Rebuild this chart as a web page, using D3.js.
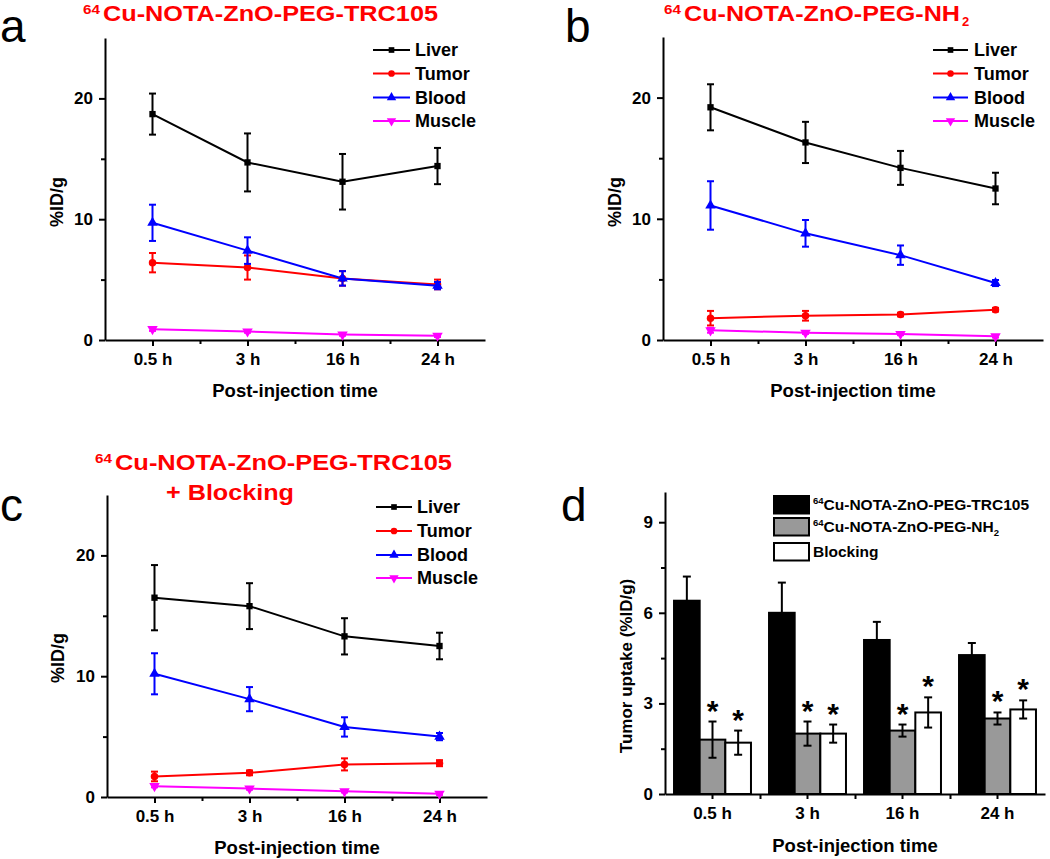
<!DOCTYPE html>
<html><head><meta charset="utf-8">
<script src="https://cdn.jsdelivr.net/npm/d3@7"></script>
<style>
body{margin:0;background:#fff}
text{font-family:"Liberation Sans",Arial,sans-serif;font-weight:bold;fill:#000}
</style>
</head><body>
<svg id="chart" width="1050" height="859"></svg>
<script>
// ---------- DATA ----------
const timeLabels = ["0.5 h", "3 h", "16 h", "24 h"];
const seriesNames = ["Liver", "Tumor", "Blood", "Muscle"];
const lineYTicks = [0, 10, 20];
const lineYMinor = [5, 15];
const barYTicks = [0, 3, 6, 9];
const barYMinor = [1.5, 4.5, 7.5];

// panel a: 64Cu-NOTA-ZnO-PEG-TRC105
const aLiver = [18.7, 14.7, 13.1, 14.4], aLiverErr = [1.7, 2.4, 2.3, 1.5];
const aTumor = [6.4, 6.0, 5.1, 4.6],     aTumorErr = [0.8, 1.0, 0.6, 0.4];
const aBlood = [9.7, 7.4, 5.1, 4.5],     aBloodErr = [1.5, 1.1, 0.6, 0.3];
const aMuscle = [0.9, 0.7, 0.45, 0.35],  aMuscleErr = [0.15, 0.1, 0.1, 0.1];

// panel b: 64Cu-NOTA-ZnO-PEG-NH2
const bLiver = [19.2, 16.3, 14.2, 12.5], bLiverErr = [1.9, 1.7, 1.4, 1.3];
const bTumor = [1.8, 2.0, 2.1, 2.5],     bTumorErr = [0.6, 0.4, 0.15, 0.15];
const bBlood = [11.1, 8.8, 7.0, 4.7],    bBloodErr = [2.0, 1.1, 0.8, 0.25];
const bMuscle = [0.8, 0.6, 0.5, 0.3],    bMuscleErr = [0.2, 0.1, 0.1, 0.1];

// panel c: 64Cu-NOTA-ZnO-PEG-TRC105 + Blocking
const cLiver = [16.5, 15.8, 13.3, 12.5], cLiverErr = [2.7, 1.9, 1.5, 1.1];
const cTumor = [1.7, 2.0, 2.7, 2.8],     cTumorErr = [0.4, 0.2, 0.5, 0.25];
const cBlood = [10.2, 8.1, 5.8, 5.0],    cBloodErr = [1.7, 1.0, 0.8, 0.3];
const cMuscle = [0.9, 0.7, 0.47, 0.27],  cMuscleErr = [0.1, 0.1, 0.1, 0.1];

// panel d: tumor uptake bars
const barGroupNames = ["TRC105", "NH2", "Blocking"];
const dTRC105 = [6.4, 6.0, 5.1, 4.6],  dTRC105Err = [0.8, 1.0, 0.6, 0.4];
const dNH2 = [1.8, 2.0, 2.1, 2.5],     dNH2Err = [0.6, 0.4, 0.2, 0.2];
const dBlock = [1.7, 2.0, 2.7, 2.8],   dBlockErr = [0.4, 0.3, 0.5, 0.3];
const dSignificant = [[false, false, false, false], [true, true, true, true], [true, true, true, true]];

// ---------- STYLE ----------
const seriesColors = ["#000000", "#ff0000", "#0000ff", "#ff00ff"];
const seriesSymbols = [d3.symbolSquare, d3.symbolCircle, d3.symbolTriangle, d3.symbolTriangle];
const seriesSymbolSize = [40, 44, 48, 48];
const seriesSymbolRot = [0, 0, 0, 180];
const barFills = ["#000000", "#999999", "#ffffff"];

const svg = d3.select("#chart");

function styleAxis(g) {
  g.selectAll("path.domain").attr("stroke", "#000").attr("stroke-width", 2);
  g.selectAll(".tick line").attr("stroke", "#000").attr("stroke-width", 2);
  g.selectAll(".tick text").style("font-size", "17px").style("font-family", '"Liberation Sans",Arial,sans-serif').style("font-weight", "bold").attr("fill", "#000");
}

function titleText(x, y, main, len, sub) {
  svg.append("text").attr("x", x).attr("y", y - 7).style("font-size", "12px").style("fill", "#ff0000")
    .attr("textLength", 17).attr("lengthAdjust", "spacingAndGlyphs").text("64");
  svg.append("text").attr("x", x + 20).attr("y", y).style("font-size", "22px").style("fill", "#ff0000")
    .attr("textLength", len).attr("lengthAdjust", "spacingAndGlyphs").text(main);
  if (sub) {
    svg.append("text").attr("x", x + 20 + len + 2).attr("y", y + 5).style("font-size", "13px").style("fill", "#ff0000").text(sub);
  }
}

function panelLabel(x, y, t) {
  svg.append("text").attr("x", x).attr("y", y).style("font-size", "46px").style("font-weight", "normal").text(t);
}

function linePanel(o) {
  const x = d3.scaleLinear().domain([0.5, 4.5]).range([o.x0, o.x1]);
  const y = d3.scaleLinear().domain([0, 25]).range([o.yb, o.yt]);
  const g = svg.append("g");

  // minor ticks
  g.append("g").attr("transform", `translate(${o.x0},0)`)
    .call(d3.axisLeft(y).tickValues(lineYMinor).tickSize(4).tickFormat(""))
    .call(a => a.select(".domain").remove()).call(styleAxis);
  g.append("g").attr("transform", `translate(0,${o.yb})`)
    .call(d3.axisBottom(x).tickValues([1.5, 2.5, 3.5]).tickSize(4).tickFormat(""))
    .call(a => a.select(".domain").remove()).call(styleAxis);
  // major axes
  g.append("g").attr("transform", `translate(${o.x0},0)`)
    .call(d3.axisLeft(y).tickValues(lineYTicks).tickSize(6).tickSizeOuter(0).tickPadding(6))
    .call(styleAxis);
  g.append("g").attr("transform", `translate(0,${o.yb})`)
    .call(d3.axisBottom(x).tickValues([1, 2, 3, 4]).tickFormat(i => timeLabels[i - 1]).tickSize(6).tickSizeOuter(0).tickPadding(7))
    .call(styleAxis);

  // axis titles
  g.append("text").attr("x", (o.x0 + o.x1) / 2).attr("y", o.yb + 57).attr("text-anchor", "middle")
    .style("font-size", "18.5px").text("Post-injection time");
  g.append("text").attr("transform", `translate(${o.ytx},${o.yty}) rotate(-90)`).attr("text-anchor", "middle")
    .style("font-size", "18px").text("%ID/g");

  // series
  o.series.forEach((s, si) => {
    const col = seriesColors[si];
    const sg = g.append("g");
    const pts = s.v.map((v, i) => ({ x: i + 1, v, e: s.e[i] }));
    // error bars
    pts.forEach(p => {
      const px = x(p.x), y1 = y(p.v + p.e), y2 = y(p.v - p.e);
      sg.append("line").attr("x1", px).attr("x2", px).attr("y1", y1).attr("y2", y2).attr("stroke", col).attr("stroke-width", 2);
      [y1, y2].forEach(yy => sg.append("line").attr("x1", px - 3.5).attr("x2", px + 3.5).attr("y1", yy).attr("y2", yy).attr("stroke", col).attr("stroke-width", 2));
    });
    sg.append("path").datum(pts).attr("fill", "none").attr("stroke", col).attr("stroke-width", 2)
      .attr("d", d3.line().x(p => x(p.x)).y(p => y(p.v)));
    sg.selectAll("path.m").data(pts).join("path").attr("class", "m")
      .attr("d", d3.symbol().type(seriesSymbols[si]).size(seriesSymbolSize[si]))
      .attr("transform", p => `translate(${x(p.x)},${y(p.v)}) rotate(${seriesSymbolRot[si]})`)
      .attr("fill", col);
  });

  // legend
  seriesNames.forEach((n, i) => {
    const ly = o.legY[i], col = seriesColors[i];
    g.append("line").attr("x1", o.lx0).attr("x2", o.lx1).attr("y1", ly).attr("y2", ly).attr("stroke", col).attr("stroke-width", 2);
    g.append("path").attr("d", d3.symbol().type(seriesSymbols[i]).size(seriesSymbolSize[i] * 0.8)())
      .attr("transform", `translate(${(o.lx0 + o.lx1) / 2},${ly}) rotate(${seriesSymbolRot[i]})`).attr("fill", col);
    g.append("text").attr("x", o.tx).attr("y", ly).attr("dy", "0.36em").style("font-size", "18px").text(n);
  });
}

// ---------- PANEL a ----------
panelLabel(0, 42, "a");
titleText(83, 20.5, "Cu-NOTA-ZnO-PEG-TRC105", 335);
linePanel({
  x0: 105, x1: 485, yt: 38, yb: 340, ytx: 63, yty: 202,
  lx0: 373, lx1: 410, tx: 415, legY: [50, 73.5, 97.5, 121],
  series: [{ v: aLiver, e: aLiverErr }, { v: aTumor, e: aTumorErr }, { v: aBlood, e: aBloodErr }, { v: aMuscle, e: aMuscleErr }]
});

// ---------- PANEL b ----------
panelLabel(565, 42, "b");
titleText(664, 20.5, "Cu-NOTA-ZnO-PEG-NH", 276, "2");
linePanel({
  x0: 663, x1: 1043, yt: 37, yb: 340, ytx: 621, yty: 202,
  lx0: 933, lx1: 968, tx: 974, legY: [50, 73.5, 97.5, 121],
  series: [{ v: bLiver, e: bLiverErr }, { v: bTumor, e: bTumorErr }, { v: bBlood, e: bBloodErr }, { v: bMuscle, e: bMuscleErr }]
});

// ---------- PANEL c ----------
panelLabel(0, 521, "c");
titleText(95, 470, "Cu-NOTA-ZnO-PEG-TRC105", 337);
svg.append("text").attr("x", 166).attr("y", 500).style("font-size", "22px").style("fill", "#ff0000")
  .attr("textLength", 128).attr("lengthAdjust", "spacingAndGlyphs").text("+ Blocking");
linePanel({
  x0: 107, x1: 487, yt: 495, yb: 797, ytx: 64, yty: 658,
  lx0: 376, lx1: 412, tx: 417, legY: [507, 531, 555, 578],
  series: [{ v: cLiver, e: cLiverErr }, { v: cTumor, e: cTumorErr }, { v: cBlood, e: cBloodErr }, { v: cMuscle, e: cMuscleErr }]
});

// ---------- PANEL d ----------
panelLabel(561, 521, "d");
(function () {
  const x0 = 665, x1 = 1045, yt = 492, yb = 794;
  const x = d3.scaleBand().domain(timeLabels).range([x0, x1]).padding(0);
  const xb = d3.scaleLinear().domain([0, 4]).range([x0, x1]);
  const y = d3.scaleLinear().domain([0, 10]).range([yb, yt]);
  const g = svg.append("g");
  const groups = [
    { v: dTRC105, e: dTRC105Err },
    { v: dNH2, e: dNH2Err },
    { v: dBlock, e: dBlockErr }
  ];
  const bw = x.bandwidth() * 0.27;

  groups.forEach((gr, gi) => {
    gr.v.forEach((v, i) => {
      const cx = x(timeLabels[i]) + x.bandwidth() / 2 + (gi - 1) * bw;
      g.append("rect").attr("x", cx - bw / 2).attr("y", y(v)).attr("width", bw).attr("height", yb - y(v))
        .attr("fill", barFills[gi]).attr("stroke", "#000").attr("stroke-width", 2);
    });
  });
  groups.forEach((gr, gi) => {
    gr.v.forEach((v, i) => {
      const cx = x(timeLabels[i]) + x.bandwidth() / 2 + (gi - 1) * bw;
      const y1 = y(v + gr.e[i]), y2 = y(v - gr.e[i]);
      g.append("line").attr("x1", cx).attr("x2", cx).attr("y1", y1).attr("y2", y2).attr("stroke", "#000").attr("stroke-width", 2);
      [y1, y2].forEach(yy => g.append("line").attr("x1", cx - 4).attr("x2", cx + 4).attr("y1", yy).attr("y2", yy).attr("stroke", "#000").attr("stroke-width", 2));
      if (dSignificant[gi][i]) {
        g.append("text").attr("x", cx).attr("y", y1 - 1).attr("text-anchor", "middle").style("font-size", "30px").text("*");
      }
    });
  });

  // axes
  g.append("g").attr("transform", `translate(${x0},0)`)
    .call(d3.axisLeft(y).tickValues(barYMinor).tickSize(4).tickFormat(""))
    .call(a => a.select(".domain").remove()).call(styleAxis);
  g.append("g").attr("transform", `translate(${x0},0)`)
    .call(d3.axisLeft(y).tickValues(barYTicks).tickSize(6).tickSizeOuter(0).tickPadding(6))
    .call(styleAxis);
  g.append("g").attr("transform", `translate(0,${yb})`)
    .call(d3.axisBottom(xb).tickValues([1, 2, 3]).tickSize(5).tickFormat(""))
    .call(a => a.select(".domain").remove()).call(styleAxis);
  g.append("g").attr("transform", `translate(0,${yb})`)
    .call(d3.axisBottom(x).tickSize(5).tickSizeOuter(0).tickPadding(8))
    .call(styleAxis);

  g.append("text").attr("x", (x0 + x1) / 2).attr("y", 852).attr("text-anchor", "middle")
    .style("font-size", "18.5px").text("Post-injection time");
  g.append("text").attr("transform", `translate(632,666) rotate(-90)`).attr("text-anchor", "middle")
    .style("font-size", "17px").text("Tumor uptake (%ID/g)");

  // legend
  const legY = [496, 518, 543];
  const legLabels = [["64", "Cu-NOTA-ZnO-PEG-TRC105", ""], ["64", "Cu-NOTA-ZnO-PEG-NH", "2"], ["", "Blocking", ""]];
  legLabels.forEach((lab, i) => {
    g.append("rect").attr("x", 774).attr("y", legY[i]).attr("width", 35).attr("height", 17.5)
      .attr("fill", barFills[i]).attr("stroke", "#000").attr("stroke-width", 2);
    const t = g.append("text").attr("x", 813).attr("y", legY[i] + 14).style("font-size", "15.5px");
    if (lab[0]) t.append("tspan").style("font-size", "9.5px").attr("dy", -6).text(lab[0]);
    t.append("tspan").attr("dy", lab[0] ? 6 : 0).text(lab[1]);
    if (lab[2]) t.append("tspan").style("font-size", "9.5px").attr("dy", 4).text(lab[2]);
  });
})();
</script>
</body></html>
